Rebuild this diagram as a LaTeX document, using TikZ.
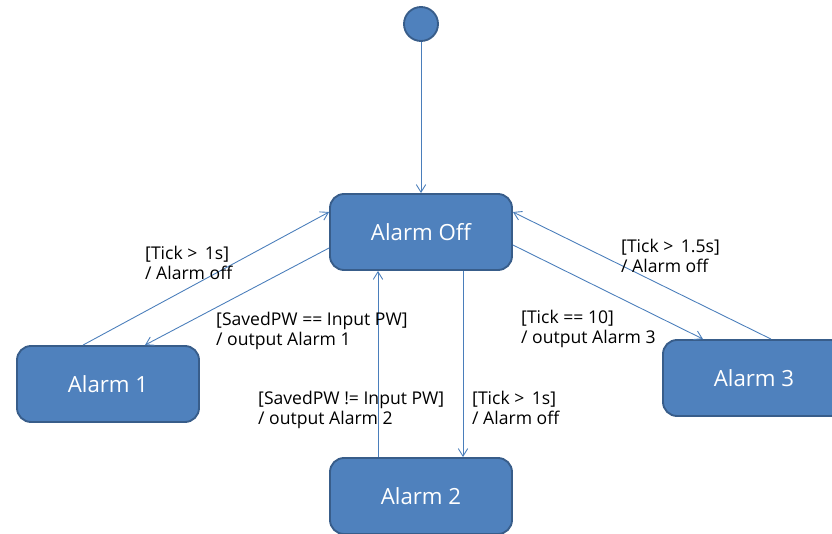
\documentclass[tikz,border=0pt]{standalone}
\usepackage{fontspec}
\setmainfont{Open Sans}
\usetikzlibrary{shapes,arrows.meta,positioning,calc}

\begin{document}
\begin{tikzpicture}[x=0.03cm, y=-0.03cm, every node/.style={font=\fontsize{15}{17}\selectfont}]
        \definecolor{stfill}{RGB}{79,129,189}
        \definecolor{stline}{RGB}{56,93,138}
        \definecolor{trline}{RGB}{74,126,187}
        \tikzset{
            statebox/.style={draw=stline, fill=stfill, line width=1.6pt, text=white, minimum width=5.46cm, minimum height=2.28cm, rounded corners=12pt, font=\fontsize{19}{22}\selectfont},
            trans/.style={draw=trline, line width=0.75pt, -{Straight Barb[length=6.5pt,width=8pt]}},
            guard/.style={anchor=north west, inner sep=0pt, align=left}
        }

        % Page frame
        \useasboundingbox (0,0) rectangle (832,534);
        \clip (0,0) rectangle (832,534);

        % Initial state
        \node[circle, draw=stline, fill=stfill, line width=1.6pt, minimum size=1.02cm, inner sep=0pt] (init) at (421,24) {};

        % States
        \node[statebox] (off) at (421,232) {Alarm Off};
        \node[statebox] (a1) at (108,384) {Alarm 1};
        \node[statebox] (a2) at (421,496) {Alarm 2};
        \node[statebox] (a3) at (754,378) {Alarm 3};

        % Transitions
        \draw[trans] (init) -- (off.north);
        \draw[trans] ($(a1.north)+(-25,0)$) -- ($(off.west)+(0,-20)$);
        \draw[trans] ($(off.west)+(0,16)$) -- ($(a1.north)+(37,0)$);
        \draw[trans] ($(a2.north)+(-43,0)$) -- ($(off.south)+(-43,0)$);
        \draw[trans] ($(off.south)+(42,0)$) -- ($(a2.north)+(42,0)$);
        \draw[trans] ($(off.east)+(0,13)$) -- ($(a3.north)+(-51,0)$);
        \draw[trans] ($(a3.north)+(17,0)$) -- ($(off.east)+(0,-20)$);

        % Guards / actions
        \node[guard] (g1) at (145,246) {[Tick > \,1s]\\/ Alarm off};
        \node[guard] (g2) at (216,312) {[SavedPW == Input PW]\\/ output Alarm 1};
        \node[guard] (g3) at (258,391) {[SavedPW != Input PW]\\/ output Alarm 2};
        \node[guard] (g4) at (472,391) {[Tick > \,1s]\\/ Alarm off};
        \node[guard] (g5) at (521,310) {[Tick == 10]\\/ output Alarm 3};
        \node[guard] (g6) at (621,239) {[Tick > \,1.5s]\\/ Alarm off};
    \end{tikzpicture}
\end{document}
